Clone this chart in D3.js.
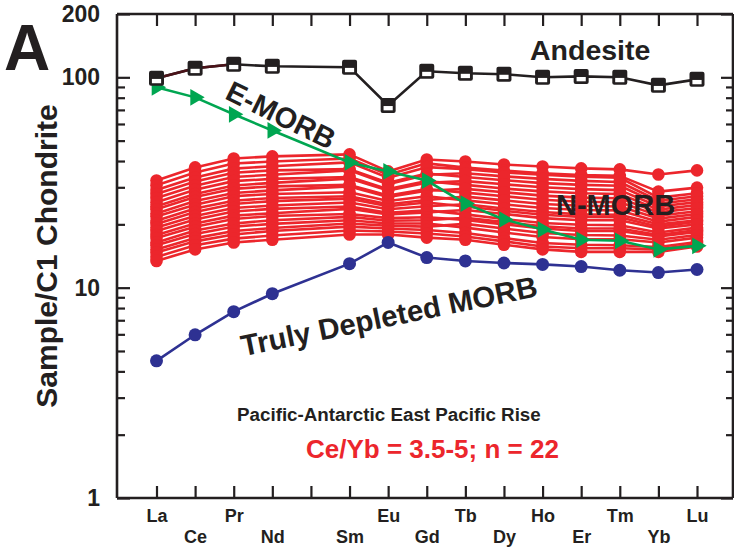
<!DOCTYPE html>
<html>
<head>
<meta charset="utf-8">
<script src="https://cdn.jsdelivr.net/npm/d3@7"></script>
<style>
  html, body { margin: 0; padding: 0; background: #fff; }
  svg { display: block; font-family: "Liberation Sans", Arial, Helvetica, sans-serif; font-weight: bold; }
</style>
</head>
<body>
<svg id="chart" width="734" height="556"></svg>
<script>
// Rare earth elements along the x axis (Pm is a slot with no data)
const elements = ["La", "Ce", "Pr", "Nd", "Pm", "Sm", "Eu", "Gd", "Tb", "Dy", "Ho", "Er", "Tm", "Yb", "Lu"];
const analysed = ["La", "Ce", "Pr", "Nd", "Sm", "Eu", "Gd", "Tb", "Dy", "Ho", "Er", "Tm", "Yb", "Lu"];
const labelledTopRow = ["La", "Pr", "Eu", "Tb", "Ho", "Tm", "Lu"];
const labelledBottomRow = ["Ce", "Nd", "Sm", "Gd", "Dy", "Er", "Yb"];

// y axis ticks (log scale)
const yMajorTicks = [1, 10, 100, 200];
const yMinorTicks = [2, 3, 4, 5, 6, 7, 8, 9, 20, 30, 40, 50, 60, 70, 80, 90];

// Chondrite-normalised REE patterns (values in analysed order)
const andesite = [98.9, 110.5, 115.3, 112.8, 111.6, 73.5, 106.9, 104.6, 103.5, 100.0, 101.0, 100.0, 91.6, 97.8];
const eMorb = [89.6, 80.3, 66.7, 55.9, 39.4, 35.7, 32.3, 25.1, 21.1, 18.9, 16.9, 16.7, 15.2, 15.8];
const trulyDepletedMorb = [4.49, 5.97, 7.69, 9.36, 13.0, 16.4, 13.9, 13.4, 13.1, 12.9, 12.6, 12.1, 11.8, 12.2];

// N-MORB samples, Pacific-Antarctic East Pacific Rise (n = 22)
const nMorb01 = [32.3, 37.3, 41.1, 42.1, 43.0, 35.7, 40.7, 39.8, 38.5, 37.7, 36.9, 36.5, 34.5, 36.1];
const nMorb02 = [30.7, 35.3, 38.9, 39.8, 41.1, 34.4, 39.0, 37.2, 36.0, 35.0, 34.3, 34.0, 28.6, 29.9];
const nMorb03 = [29.1, 33.4, 36.8, 37.8, 39.4, 33.3, 37.4, 36.6, 35.3, 34.4, 33.7, 33.3, 26.8, 28.1];
const nMorb04 = [27.9, 32.0, 35.2, 36.1, 36.6, 31.5, 34.9, 33.6, 32.4, 31.4, 30.8, 30.5, 25.1, 26.3];
const nMorb05 = [26.7, 30.5, 33.6, 34.4, 36.1, 31.0, 34.4, 35.0, 33.8, 32.9, 32.2, 31.8, 25.9, 27.2];
const nMorb06 = [25.5, 29.2, 32.1, 32.9, 33.6, 29.4, 32.1, 30.8, 29.6, 28.7, 28.1, 27.9, 23.5, 24.7];
const nMorb07 = [24.4, 27.9, 30.6, 31.5, 33.0, 29.0, 31.5, 32.1, 31.0, 30.0, 29.4, 29.1, 24.3, 25.5];
const nMorb08 = [23.6, 27.0, 29.5, 30.3, 30.8, 27.4, 29.4, 28.3, 27.2, 26.2, 25.6, 25.5, 22.0, 23.1];
const nMorb09 = [22.5, 25.8, 28.2, 29.0, 30.3, 27.0, 28.9, 29.5, 28.4, 27.4, 26.8, 26.6, 22.8, 23.9];
const nMorb10 = [21.8, 24.8, 27.2, 27.9, 28.4, 25.8, 27.2, 26.0, 24.9, 23.9, 23.4, 23.3, 20.6, 21.7];
const nMorb11 = [20.8, 23.8, 25.9, 26.7, 27.2, 24.9, 26.1, 27.1, 26.0, 25.0, 24.5, 24.3, 21.3, 22.4];
const nMorb12 = [20.1, 22.9, 25.0, 25.8, 26.5, 24.4, 25.4, 24.3, 23.2, 22.2, 21.7, 21.6, 19.5, 20.6];
const nMorb13 = [19.3, 21.9, 23.9, 24.6, 25.4, 23.6, 24.4, 24.9, 23.8, 22.9, 22.3, 22.2, 20.0, 20.9];
const nMorb14 = [18.6, 21.1, 23.0, 23.7, 24.3, 22.7, 23.3, 22.3, 21.2, 20.3, 19.9, 19.8, 18.3, 19.3];
const nMorb15 = [17.8, 20.2, 22.0, 22.6, 23.7, 22.3, 22.8, 23.4, 22.4, 21.4, 20.9, 20.9, 19.1, 20.0];
const nMorb16 = [17.2, 19.5, 21.2, 21.9, 22.4, 21.4, 21.6, 21.0, 20.0, 19.1, 18.6, 18.6, 17.5, 18.4];
const nMorb17 = [16.4, 18.7, 20.2, 20.9, 21.7, 20.8, 20.9, 21.5, 20.5, 19.6, 19.1, 19.1, 17.8, 18.8];
const nMorb18 = [15.9, 18.0, 19.5, 20.1, 20.9, 20.2, 20.2, 19.3, 18.3, 17.4, 17.0, 17.0, 16.4, 17.3];
const nMorb19 = [15.2, 17.2, 18.6, 19.2, 20.2, 19.7, 19.5, 20.1, 19.1, 18.2, 17.8, 17.7, 16.9, 17.8];
const nMorb20 = [14.7, 16.6, 17.9, 18.6, 19.5, 19.1, 18.8, 18.2, 17.2, 16.3, 16.0, 15.9, 15.6, 16.5];
const nMorb21 = [14.0, 15.9, 17.1, 17.7, 18.7, 18.5, 18.1, 17.5, 16.6, 15.7, 15.4, 15.4, 15.2, 16.1];
const nMorb22 = [13.4, 15.2, 16.4, 16.9, 17.9, 17.9, 17.3, 16.9, 16.0, 15.2, 14.8, 14.8, 14.8, 15.7];
const nMorbSamples = [nMorb01, nMorb02, nMorb03, nMorb04, nMorb05, nMorb06, nMorb07, nMorb08, nMorb09, nMorb10, nMorb11,
                      nMorb12, nMorb13, nMorb14, nMorb15, nMorb16, nMorb17, nMorb18, nMorb19, nMorb20, nMorb21, nMorb22];

// ---- drawing ----
const INK = "#231f20", RED = "#ec262c", BLUE = "#2e3192", GREEN = "#00a651";
const frame = { left: 117, right: 733, top: 14, bottom: 498 };

const svg = d3.select("#chart");

const x = d3.scalePoint().domain(elements).range([156.5, 697]);
const y = d3.scaleLog().domain([1, 200]).range([frame.bottom, frame.top]);

const toPoints = vals => vals.map((v, i) => ({ el: analysed[i], v }));
const line = d3.line().x(d => x(d.el)).y(d => y(d.v));

// Axes: ticks point inward on all four sides
function styleAxis(g) {
  g.selectAll("path.domain").attr("stroke", INK).attr("stroke-width", 2.6);
  g.selectAll(".tick line").attr("stroke", INK).attr("stroke-width", 2.2);
  g.selectAll("text").attr("fill", INK).style("font-family", "'Liberation Sans', Arial, sans-serif").style("font-weight", "bold");
}

const bottomAxis = svg.append("g").attr("transform", `translate(0,${frame.bottom})`)
  .call(d3.axisBottom(x).tickSizeInner(-12).tickSizeOuter(0).tickPadding(11)
    .tickFormat(d => (d === "Pm" ? "" : d)));
bottomAxis.call(styleAxis);
bottomAxis.select("path.domain").attr("d", `M${frame.left},0H${frame.right}`);
bottomAxis.selectAll("text").style("font-size", "18px")
  .attr("dy", d => (labelledBottomRow.includes(d) ? "1.87em" : "0.71em"));

const topAxis = svg.append("g").attr("transform", `translate(0,${frame.top})`)
  .call(d3.axisTop(x).tickSizeInner(-12).tickSizeOuter(0).tickFormat(""));
topAxis.call(styleAxis);
topAxis.select("path.domain").attr("d", `M${frame.left},0H${frame.right}`);

const leftMajor = svg.append("g").attr("transform", `translate(${frame.left},0)`)
  .call(d3.axisLeft(y).tickValues(yMajorTicks).tickSizeInner(-13).tickSizeOuter(0).tickPadding(17)
    .tickFormat(d3.format("d")));
leftMajor.call(styleAxis);
leftMajor.select("path.domain").attr("d", `M0,${frame.top}V${frame.bottom}`);
leftMajor.selectAll("text").style("font-size", "23px");

const leftMinor = svg.append("g").attr("transform", `translate(${frame.left},0)`)
  .call(d3.axisLeft(y).tickValues(yMinorTicks).tickSizeInner(-8).tickSizeOuter(0).tickFormat(""));
leftMinor.call(styleAxis);
leftMinor.select("path.domain").remove();

const rightMajor = svg.append("g").attr("transform", `translate(${frame.right},0)`)
  .call(d3.axisRight(y).tickValues(yMajorTicks).tickSizeInner(-12).tickSizeOuter(0).tickFormat(""));
rightMajor.call(styleAxis);
rightMajor.select("path.domain").attr("d", `M0,${frame.top}V${frame.bottom}`);

const rightMinor = svg.append("g").attr("transform", `translate(${frame.right},0)`)
  .call(d3.axisRight(y).tickValues(yMinorTicks).tickSizeInner(-7).tickSizeOuter(0).tickFormat(""));
rightMinor.call(styleAxis);
rightMinor.select("path.domain").remove();

// N-MORB bundle
const nMorbG = svg.append("g");
nMorbSamples.forEach(s => {
  const pts = toPoints(s);
  nMorbG.append("path").attr("d", line(pts)).attr("fill", "none")
    .attr("stroke", RED).attr("stroke-width", 2.6).attr("stroke-linejoin", "round");
  nMorbG.selectAll(null).data(pts).enter().append("circle")
    .attr("cx", d => x(d.el)).attr("cy", d => y(d.v)).attr("r", 6.3).attr("fill", RED);
});

// Truly depleted MORB
const tdPts = toPoints(trulyDepletedMorb);
svg.append("path").attr("d", line(tdPts)).attr("fill", "none")
  .attr("stroke", BLUE).attr("stroke-width", 2.6);
svg.append("g").selectAll("circle").data(tdPts).enter().append("circle")
  .attr("cx", d => x(d.el)).attr("cy", d => y(d.v)).attr("r", 6.5).attr("fill", BLUE);

// E-MORB
const emPts = toPoints(eMorb);
svg.append("path").attr("d", line(emPts)).attr("fill", "none")
  .attr("stroke", GREEN).attr("stroke-width", 2.6);
const tri = d3.symbol().type(d3.symbolTriangle).size(120);
svg.append("g").selectAll("path").data(emPts).enter().append("path")
  .attr("d", tri)
  .attr("transform", d => `translate(${x(d.el)},${y(d.v)}) rotate(90)`)
  .attr("fill", GREEN);

// Andesite (first segments drawn in a dark maroon)
const anPts = toPoints(andesite);
svg.append("path").attr("d", line(anPts)).attr("fill", "none")
  .attr("stroke", INK).attr("stroke-width", 2.6);
svg.append("path").attr("d", line(anPts.slice(0, 3))).attr("fill", "none")
  .attr("stroke", "#4a1218").attr("stroke-width", 2.6);
const sq = svg.append("g").selectAll("g").data(anPts).enter().append("g")
  .attr("transform", d => `translate(${x(d.el)},${y(d.v)})`);
sq.append("rect").attr("x", -7.5).attr("y", -7.5).attr("width", 15).attr("height", 15)
  .attr("rx", 2).attr("fill", INK);
sq.append("rect").attr("x", -4.6).attr("y", 0.6).attr("width", 9.2).attr("height", 4.3)
  .attr("fill", "#fff");

// Annotations
const ann = (txt, opts) => {
  const t = svg.append("text").text(txt)
    .attr("fill", opts.fill || INK)
    .style("font-size", opts.size + "px")
    .style("font-weight", "bold")
    .attr("text-anchor", opts.anchor || "start");
  if (opts.rotate !== undefined) {
    t.attr("transform", `translate(${opts.x},${opts.y}) rotate(${opts.rotate})`).attr("dy", "0.35em");
  } else {
    t.attr("x", opts.x).attr("y", opts.y);
  }
  return t;
};

ann("A", { x: 4, y: 70, size: 64 });
ann("Andesite", { x: 530, y: 60, size: 28.5 });
ann("E-MORB", { x: 281, y: 115, size: 29, anchor: "middle", rotate: 26 });
ann("N-MORB", { x: 556, y: 215, size: 29 });
ann("Truly Depleted MORB", { x: 389, y: 316, size: 29.5, anchor: "middle", rotate: -11.5 });
ann("Pacific-Antarctic East Pacific Rise", { x: 237, y: 421, size: 18.8 });
ann("Ce/Yb = 3.5-5; n = 22", { x: 306, y: 458, size: 26, fill: RED });

// y axis title
svg.append("text").text("Sample/C1 Chondrite")
  .attr("transform", `translate(57,256) rotate(-90)`)
  .attr("text-anchor", "middle")
  .attr("fill", INK)
  .style("font-size", "30px").style("font-weight", "bold");
</script>
</body>
</html>
